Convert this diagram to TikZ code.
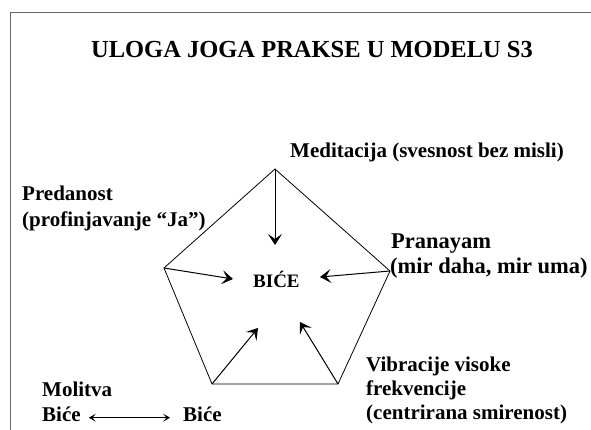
\documentclass[tikz,border=0pt]{standalone}
\usepackage{fontspec}
\setmainfont{Liberation Serif}
\usetikzlibrary{arrows.meta}
\begin{document}
\begin{tikzpicture}[x=1pt,y=-1pt,
  lbl/.style={font=\fontsize{21}{25}\selectfont\bfseries, inner sep=0pt, anchor=base west},
  lblbig/.style={font=\fontsize{22.5}{26}\selectfont\bfseries, inner sep=0pt, anchor=base west},
  edge/.style={line width=0.8pt},
  inarrow/.style={line width=1pt,-{Stealth[length=11pt,width=14pt,inset=5pt]}},
  dblarrow/.style={line width=0.8pt,{Stealth[length=7pt,width=8pt,inset=3.5pt]}-{Stealth[length=7pt,width=8pt,inset=3.5pt]}}]
\useasboundingbox (0,0) rectangle (591,430);
\draw[black!60, line width=1pt] (10,430) -- (10,12.5) -- (591,12.5);
% title
\node[font=\fontsize{24.5}{29}\selectfont\bfseries, inner sep=0pt, anchor=base] (title) at (312,58) {ULOGA JOGA PRAKSE U MODELU S3};
% labels
\node[lbl] (med) at (290,158) {Meditacija (svesnost bez misli)};
\node[lbl] (pred1) at (22,201) {Predanost};
\node[lbl] (pred2) at (22,226.5) {(profinjavanje “Ja”)};
\node[lblbig] (pran1) at (391,248) {Pranayam};
\node[lblbig] (pran2) at (390,273) {(mir daha, mir uma)};
\node[lbl] (vib1) at (366,371) {Vibracije visoke};
\node[lbl] (vib2) at (366,395) {frekvencije};
\node[lbl] (vib3) at (366,419) {(centrirana smirenost)};
\node[lbl] (mol) at (42,396) {Molitva};
\node[lbl] (b1) at (42,421.7) {Biće};
\node[lbl] (b2) at (183,421.7) {Biće};
\node[font=\fontsize{19}{23}\selectfont\bfseries, inner sep=0pt, anchor=base west] (bice) at (253,287) {BIĆE};
% pentagon
\coordinate (pT) at (275,169);
\coordinate (pR) at (390,271);
\coordinate (pBR) at (338,384);
\coordinate (pBL) at (212,384);
\coordinate (pL) at (164,268);
\draw[edge] (pT) -- (pR) -- (pBR) -- (pBL) -- (pL) -- cycle;
% arrow tips
\coordinate (aT) at (275,245);
\coordinate (aL) at (233,279);
\coordinate (aR) at (320,277);
\coordinate (aBL) at (258,328);
\coordinate (aBR) at (300,322);
\draw[inarrow] (pT) -- (aT);
\draw[inarrow] (pL) -- (aL);
\draw[inarrow] (pR) -- (aR);
\draw[inarrow] (pBL) -- (aBL);
\draw[inarrow] (pBR) -- (aBR);
% double arrow
\draw[dblarrow] ([xshift=8pt,yshift=4pt]b1.base east) -- ([xshift=-13pt,yshift=4pt]b2.base west);
\end{tikzpicture}
\end{document}
